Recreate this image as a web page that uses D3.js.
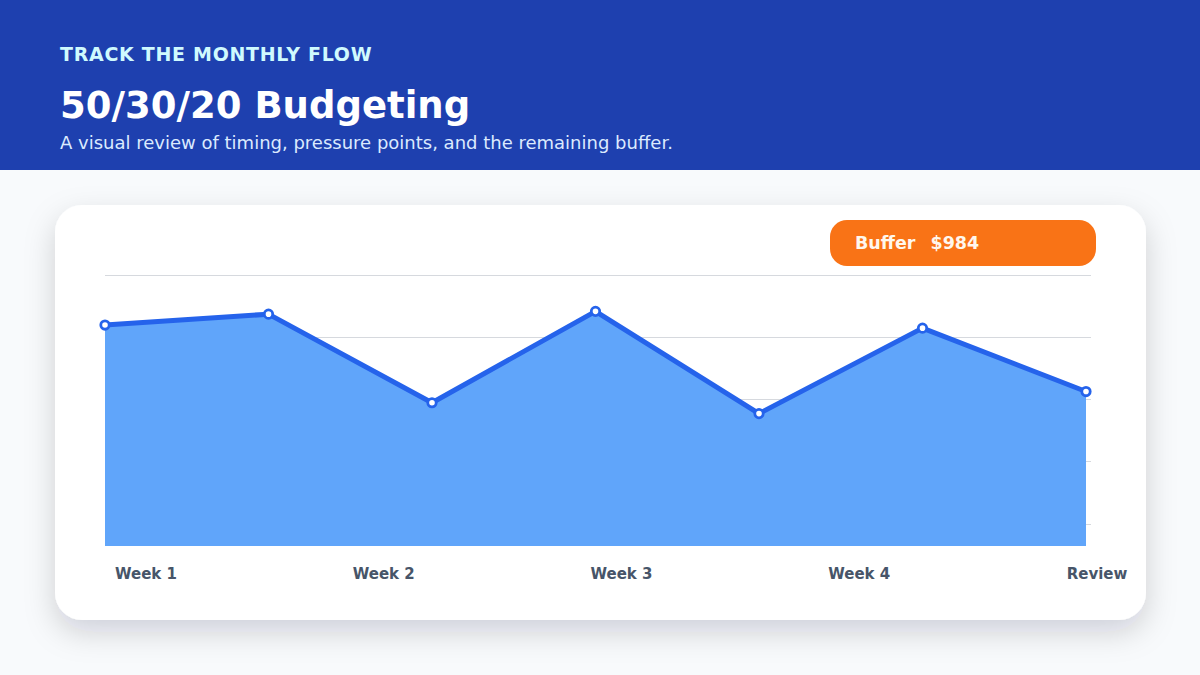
<!DOCTYPE html>
<html>
<head>
<meta charset="utf-8">
<script src="https://cdn.jsdelivr.net/npm/d3@7"></script>
<style>
  html, body { margin: 0; padding: 0; background: #f8fafc; }
  svg { display: block; font-family: "DejaVu Sans", sans-serif; }
</style>
</head>
<body>
<svg id="chart" width="1200" height="675"></svg>
<script>
// ---- data ----
const kicker = "TRACK THE MONTHLY FLOW";
const title = "50/30/20 Budgeting";
const subtitle = "A visual review of timing, pressure points, and the remaining buffer.";
const pointIndex = [0, 1, 2, 3, 4, 5, 6];
const values = [83.9, 87.4, 58.9, 88.3, 55.4, 82.9, 62.5];
const axisLabels = ["Week 1", "Week 2", "Week 3", "Week 4", "Review"];
const gridValues = [100, 80, 60, 40, 20];
const yDomain = [12.8, 100];
const badgeLabel = "Buffer";
const badgeValue = "$984";

// ---- layout ----
const W = 1200, H = 675;
const svg = d3.select("#chart");

const defs = svg.append("defs");
const f = defs.append("filter").attr("id", "shadow")
  .attr("x", "-10%").attr("y", "-15%").attr("width", "120%").attr("height", "140%");
f.append("feDropShadow").attr("dx", 0).attr("dy", 12).attr("stdDeviation", 15)
  .attr("flood-color", "#0f172a").attr("flood-opacity", 0.17);

svg.append("rect").attr("width", W).attr("height", H).attr("fill", "#f8fafc");

// header
svg.append("rect").attr("x", 0).attr("y", 0).attr("width", W).attr("height", 170).attr("fill", "#1e40af");
svg.append("text").attr("x", 60).attr("y", 61).text(kicker)
  .attr("fill", "#cffafe").attr("font-size", 19).attr("font-weight", 700).attr("letter-spacing", 0.7);
svg.append("text").attr("x", 60).attr("y", 118).text(title)
  .attr("fill", "#ffffff").attr("font-size", 37).attr("font-weight", 700);
svg.append("text").attr("x", 60).attr("y", 149).text(subtitle)
  .attr("fill", "#dbeafe").attr("font-size", 18);

// card
svg.append("rect").attr("x", 55).attr("y", 205).attr("width", 1091).attr("height", 415)
  .attr("rx", 27).attr("fill", "#ffffff").attr("filter", "url(#shadow)");

// scales
const plotLeft = 105, plotRight = 1086, plotTop = 275, plotBottom = 546, gridRight = 1091;
const x = d3.scaleLinear().domain(d3.extent(pointIndex)).range([plotLeft, plotRight]);
const y = d3.scaleLinear().domain(yDomain).range([plotBottom, plotTop]);
const xl = d3.scalePoint().domain(axisLabels).range([146, 1097]);

// gridlines
svg.append("g").selectAll("line").data(gridValues).join("line")
  .attr("x1", plotLeft).attr("x2", gridRight)
  .attr("y1", d => Math.round(y(d)) + 0.5).attr("y2", d => Math.round(y(d)) + 0.5)
  .attr("stroke", "#d6d9de").attr("stroke-width", 1);

const data = pointIndex.map((i) => ({ i, v: values[i] }));

// area
const area = d3.area().x(d => x(d.i)).y0(y(yDomain[0])).y1(d => y(d.v));
svg.append("path").datum(data).attr("d", area).attr("fill", "#60a5fa");

// line
const line = d3.line().x(d => x(d.i)).y(d => y(d.v));
svg.append("path").datum(data).attr("d", line).attr("fill", "none")
  .attr("stroke", "#2563eb").attr("stroke-width", 5).attr("stroke-linejoin", "round");

// markers
svg.append("g").selectAll("circle").data(data).join("circle")
  .attr("cx", d => x(d.i)).attr("cy", d => y(d.v)).attr("r", 4.2)
  .attr("fill", "#ffffff").attr("stroke", "#2563eb").attr("stroke-width", 2.8);

// axis labels
svg.append("g").selectAll("text").data(axisLabels).join("text")
  .attr("x", d => xl(d)).attr("y", 579).attr("text-anchor", "middle")
  .attr("fill", "#475569").attr("font-size", 15).attr("font-weight", 700)
  .text(d => d);

// badge
svg.append("rect").attr("x", 830).attr("y", 220).attr("width", 266).attr("height", 46)
  .attr("rx", 17).attr("fill", "#f97316");
const bt = svg.append("text").attr("x", 855).attr("y", 249)
  .attr("fill", "#fff7ed").attr("font-size", 17.5).attr("font-weight", 700);
bt.append("tspan").text(badgeLabel);
bt.append("tspan").attr("dx", 15).text(badgeValue);
</script>
</body>
</html>
